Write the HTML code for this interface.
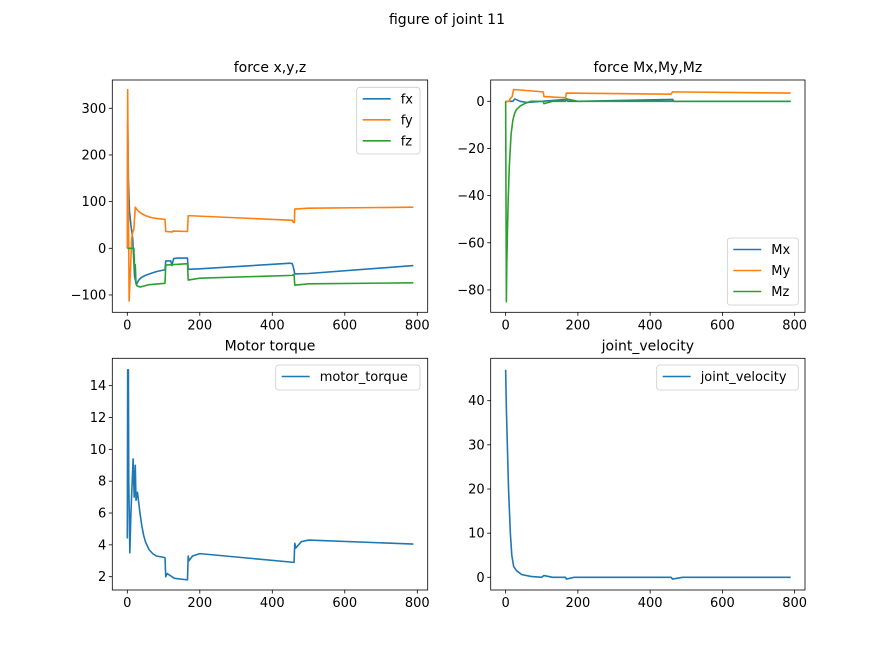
<!DOCTYPE html>
<html><head><meta charset="utf-8"><style>
html,body{margin:0;padding:0;background:#fff}
svg{display:block;font-family:"DejaVu Sans","Liberation Sans",sans-serif}
</style></head><body>
<svg id="fig" width="894" height="663" viewBox="0 0 894 663">
<text x="447" y="24" text-anchor="middle" font-size="14">figure of joint 11</text>
</svg>
<script>
// ---- data ----
const fxT=[0,1,3,6,10,15,20,25,30,35,40,50,60,80,104,106,120,123,125,128,140,166,168,200,450,455,458,462,500,789];
const fxV=[0,270,150,80,50,20,-60,-78,-70,-65,-62,-58,-55,-50,-46,-27,-27,-37,-30,-22,-21,-21,-45,-44,-32,-33,-40,-55,-54,-37];
const fyT=[0,1,3,5,8,12,15,18,22,30,40,50,65,80,104,106,124,126,166,168,455,458,461,462,500,789];
const fyV=[0,340,100,-113,-60,20,35,40,88,80,74,70,66,64,62,36,35,37,36,70,60,56,55,84,86,88];
const fzT=[0,18,20,22,24,26,35,50,60,104,106,166,168,200,455,460,462,500,789];
const fzV=[0,0,-40,-35,-75,-80,-83,-80,-78,-75,-36,-33,-68,-64,-58,-56,-79,-76,-74];
const mxT=[0,20,25,40,60,100,168,172,200,462,466,500,789];
const mxV=[0,0,1,0,-0.5,0,0.8,0,0,0.8,0,0,0];
const myT=[0,10,12,18,22,104,106,166,168,458,462,789];
const myV=[0,0,1,2,5,4,2,1.5,3.5,3,4,3.5];
const mzT=[0,2,3,5,7,10,15,20,25,30,40,55,70,104,106,130,166,168,200,789];
const mzV=[0,-85,-70,-55,-42,-28,-14,-8,-5,-3.5,-2,-0.8,0,0,-1,0,0,1,0,0];
const mtT=[0,1,3,4,7,10,16,19,22,24,28,35,40,45,50,60,70,80,104,106,110,130,166,168,170,180,200,460,462,465,480,500,789];
const mtV=[4.4,15,15,8,3.5,6,9.4,7,9,6.8,7.3,6,5.2,4.6,4.2,3.7,3.45,3.3,3.2,2.0,2.2,1.9,1.8,3.3,3.0,3.3,3.45,2.9,4.1,3.8,4.2,4.3,4.05];
const jvT=[0,2,8,13,17,22,30,45,70,100,106,130,166,168,190,458,462,490,789];
const jvV=[47,38,20,10,5,2.5,1.5,0.6,0.2,0,0.4,0,0,-0.4,0,0,-0.4,0,0];
const xTicks=[0,200,400,600,800];
const ticksTL=[-100,0,100,200,300];
const ticksTR=[-80,-60,-40,-20,0];
const ticksBL=[2,4,6,8,10,12,14];
const ticksBR=[0,10,20,30,40];

const NS="http://www.w3.org/2000/svg";
const svg=document.getElementById('fig');
function mk(tag,attrs,parent){const e=document.createElementNS(NS,tag);for(const k in attrs)e.setAttribute(k,attrs[k]);(parent||svg).appendChild(e);return e;}
const C={b:'#1f77b4',o:'#ff7f0e',g:'#2ca02c'};

function panel(name,box,xr,yr,yTicks,title,series,legend){
  const [L,T,R,B]=box;
  const g=mk('g',{});
  
  
  const sx=v=>L+(v-xr[0])/(xr[1]-xr[0])*(R-L);
  const sy=v=>B-(v-yr[0])/(yr[1]-yr[0])*(B-T);
  const cp='clip-'+name;
  const cl=mk('clipPath',{id:cp},g);mk('rect',{x:L,y:T,width:R-L,height:B-T},cl);
  series.forEach(s=>{
    const d=s.t.map((t,i)=>(i?'L':'M')+sx(t).toFixed(2)+' '+sy(s.v[i]).toFixed(2)).join(' ');
    const p=mk('path',{d:d,fill:'none',stroke:s.c,'stroke-width':1.6,'clip-path':'url(#'+cp+')','stroke-linejoin':'round'},g);
    
    
  });
  const fr=mk('rect',{x:L,y:T,width:R-L,height:B-T,fill:'none',stroke:'#000','stroke-width':0.8},g);
  
  
  xTicks.forEach(v=>{const x=sx(v);mk('line',{x1:x,x2:x,y1:B,y2:B+3.5,stroke:'#000','stroke-width':0.8},g);
    const t=mk('text',{x:x,y:B+17,'text-anchor':'middle','font-size':13},g);t.textContent=v;
    
    });
  yTicks.forEach(v=>{const y=sy(v);mk('line',{x1:L-3.5,x2:L,y1:y,y2:y,stroke:'#000','stroke-width':0.8},g);
    const t=mk('text',{x:L-6,y:y+4.5,'text-anchor':'end','font-size':13},g);t.textContent=v<0?'\u2212'+(-v):v;
    
    });
  const tt=mk('text',{x:(L+R)/2,y:T-8,'text-anchor':'middle','font-size':14},g);tt.textContent=title;
  
  
  const [lx,ly,lw,lh]=legend;
  const lg=mk('g',{},g);
  
  
  mk('rect',{x:lx,y:ly,width:lw,height:lh,rx:3,fill:'#fff','fill-opacity':0.8,stroke:'#ccc','stroke-width':0.8},lg);
  series.forEach((s,i)=>{const yy=ly+11.5+i*21;
    mk('line',{x1:lx+6,x2:lx+34,y1:yy,y2:yy,stroke:s.c,'stroke-width':1.6},lg);
    const t=mk('text',{x:lx+44,y:yy+4.5,'font-size':13},lg);t.textContent=s.n;
    
    });
}
const xr=[-41.4,828.7];
panel('force-xyz-chart',[112.3,80,427.7,312.3],xr,[0-(312.3-248.3)/0.4667,0+(248.3-80)/0.4667],ticksTL,'force x,y,z',
 [{t:fxT,v:fxV,c:C.b,n:'fx'},{t:fyT,v:fyV,c:C.o,n:'fy'},{t:fzT,v:fzV,c:C.g,n:'fz'}],[356.7,87.3,63.3,66.7]);
panel('force-mxyz-chart',[490.7,80,805,312.3],xr,[0-(312.3-101.3)/2.358,0+(101.3-80)/2.358],ticksTR,'force Mx,My,Mz',
 [{t:mxT,v:mxV,c:C.b,n:'Mx'},{t:myT,v:myV,c:C.o,n:'My'},{t:mzT,v:mzV,c:C.g,n:'Mz'}],[727.3,238,71,67]);
panel('motor-torque-chart',[112.3,358.3,427.7,590],xr,[2-(590-576.7)/15.92,2+(576.7-358.3)/15.92],ticksBL,'Motor torque',
 [{t:mtT,v:mtV,c:C.b,n:'motor_torque'}],[275.7,365,144.3,25]);
panel('joint-velocity-chart',[490.7,358.3,805,590],xr,[0-(590-577.3)/4.415,0+(577.3-358.3)/4.415],ticksBR,'joint_velocity',
 [{t:jvT,v:jvV,c:C.b,n:'joint_velocity'}],[656.7,365,141.6,25]);
</script>
</body></html>
